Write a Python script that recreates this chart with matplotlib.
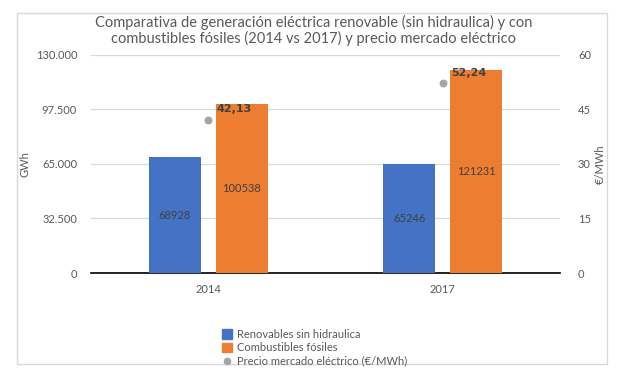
import matplotlib
matplotlib.use("Agg")
import matplotlib.pyplot as plt
from matplotlib.patches import Rectangle
from matplotlib.lines import Line2D
import numpy as np

plt.rcParams['font.family'] = ['Lato', 'DejaVu Sans']

years = ["2014", "2017"]
renovables = [68928, 65246]
fosiles = [100538, 121231]
precio = [42.13, 52.24]
precio_labels = ["42,13", "52,24"]
left_ticks = [0, 32500, 65000, 97500, 130000]
left_ticklabels = ["0", "32.500", "65.000", "97.500", "130.000"]
right_ticks = [0, 15, 30, 45, 60]

blue = "#4472c4"
orange = "#ed7d31"
gray_txt = "#595959"

fig = plt.figure(figsize=(6.27, 3.84), dpi=100)
fig.patches.append(Rectangle((0.027, 0.052), 0.941, 0.914, transform=fig.transFigure,
                             fill=False, edgecolor="#d9d9d9", linewidth=1))
ax = fig.add_axes([0.1451, 0.289, 0.748, 0.568])
ax2 = ax.twinx()

x = np.arange(len(years))
w = 0.222
off = 0.143
ax.bar(x - off, renovables, w, color=blue, zorder=3)
ax.bar(x + off, fosiles, w, color=orange, zorder=3)
for xi, v in zip(x - off, renovables):
    ax.text(xi, v / 2, str(v), ha="center", va="center", fontsize=8, color="#404040", zorder=4)
for xi, v in zip(x + off, fosiles):
    ax.text(xi, v / 2, str(v), ha="center", va="center", fontsize=8, color="#404040", zorder=4)

ax.set_xlim(-0.5, 1.5)
ax.set_ylim(0, 130000)
ax.set_yticks(left_ticks)
ax.set_yticklabels(left_ticklabels)
ax.set_xticks(x)
ax.set_xticklabels(years)
ax.grid(axis="y", color="#d9d9d9", linewidth=0.9, zorder=0)
ax.set_axisbelow(True)
for s in ["top", "right", "left"]:
    ax.spines[s].set_visible(False)
ax.spines["bottom"].set_color("black")
ax.spines["bottom"].set_linewidth(1.2)
ax.tick_params(axis="both", length=0, labelsize=8, colors=gray_txt, pad=8)
ax.tick_params(axis="y", pad=10)
ax.set_ylabel("GWh", fontsize=8, color=gray_txt)
ax.yaxis.set_label_coords(-0.128, 0.5)

ax2.set_ylim(0, 60)
ax2.set_yticks(right_ticks)
for s in ax2.spines.values():
    s.set_visible(False)
ax2.tick_params(axis="y", length=0, labelsize=8, colors=gray_txt, pad=13)
ax2.set_ylabel("€/MWh", fontsize=8, color=gray_txt)
ax2.yaxis.set_label_coords(1.075, 0.5)
ax2.scatter(x, precio, s=22, color="#a5a5a5", zorder=5)
for xi, v, lab in zip(x, precio, precio_labels):
    ax2.annotate(lab, (xi, v), xytext=(6, 4), textcoords="offset points",
                 fontsize=8, fontweight="bold", color="#404040", ha="left", va="bottom",
                 family=["DejaVu Sans"])

fig.text(0.5, 0.92, "Comparativa de generación eléctrica renovable (sin hidraulica) y con\n"
         "combustibles fósiles (2014 vs 2017) y precio mercado eléctrico",
         ha="center", va="center", fontsize=10.5, color=gray_txt, linespacing=1.05)

handles = [Rectangle((0, 0), 1, 1, color=blue),
           Rectangle((0, 0), 1, 1, color=orange),
           Line2D([], [], marker="o", color="#a5a5a5", linestyle="none", markersize=4.5)]
labels = ["Renovables sin hidraulica", "Combustibles fósiles", "Precio mercado eléctrico (€/MWh)"]
fig.legend(handles, labels, loc="upper left", bbox_to_anchor=(0.345, 0.158),
           bbox_transform=fig.transFigure, frameon=False, fontsize=8, labelcolor=gray_txt,
           handlelength=0.9, handleheight=0.9, handletextpad=0.5, labelspacing=0.22,
           borderpad=0)

fig.savefig("out.png", dpi=100)
